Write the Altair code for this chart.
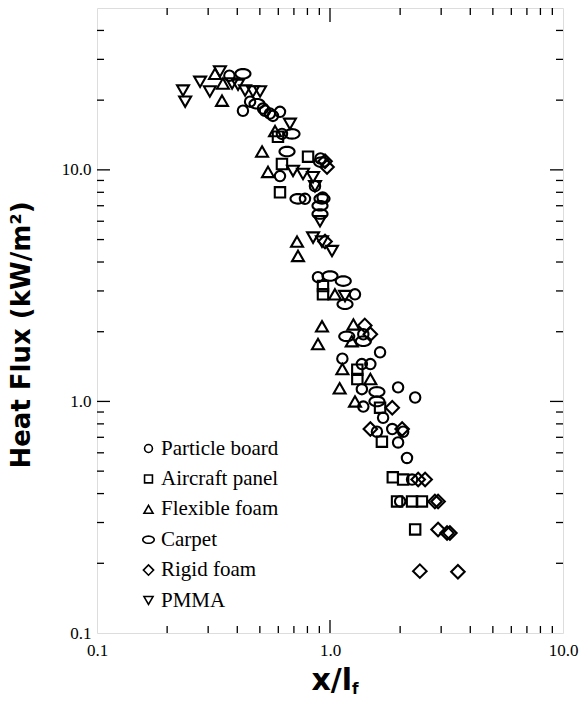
import altair as alt
import pandas as pd
import numpy as np

series_order = ["Particle board", "Aircraft panel", "Flexible foam", "Carpet", "Rigid foam", "PMMA"]

pb_x = [0.37, 0.454, 0.423, 0.516, 0.526, 0.552, 0.569, 0.61, 0.622, 0.61, 0.91, 0.862, 0.781, 0.93, 0.888,
        1.28, 1.39, 1.64, 1.13, 1.37, 1.49, 1.37, 1.96, 2.32, 1.39, 1.69, 1.59, 1.85, 2.06, 1.96, 2.14, 2.25, 2.0]
pb_y = [25.5, 19.7, 18.0, 18.4, 18.0, 17.5, 17.1, 17.8, 14.3, 9.4, 11.2, 8.5, 7.5, 7.6, 3.44,
        2.9, 1.95, 1.63, 1.53, 1.45, 1.45, 1.13, 1.15, 1.04, 0.95, 0.85, 0.74, 0.76, 0.74, 0.665, 0.57, 0.46, 0.37]

ap_x = [0.598, 0.622, 0.805, 0.61, 0.933, 0.933, 1.31, 1.31, 1.64, 1.67, 1.86, 2.06, 1.94, 2.25, 2.48, 2.32]
ap_y = [13.9, 10.6, 11.4, 8.0, 3.15, 2.9, 1.25, 1.37, 0.94, 0.67, 0.47, 0.46, 0.37, 0.37, 0.37, 0.28]

ff_x = [0.321, 0.344, 0.347, 0.581, 0.511, 0.542, 0.722, 0.729, 1.05, 0.924, 0.888, 1.26, 1.24, 1.13, 1.10, 1.49, 1.28]
ff_y = [26.0, 19.9, 23.6, 14.7, 12.0, 9.8, 4.9, 4.25, 2.9, 2.11, 1.77, 2.15, 1.82, 1.38, 1.14, 1.25, 1.0]

cp_x = [0.423, 0.486, 0.687, 0.654, 0.924, 0.729, 0.906, 0.906, 1.0, 1.14, 1.16, 1.18, 1.39, 1.59, 1.59, 0.92]
cp_y = [26.0, 19.3, 14.3, 12.0, 7.5, 7.5, 7.0, 6.45, 3.48, 3.31, 2.63, 1.91, 1.82, 1.10, 1.0, 10.8]

rf_x = [0.952, 0.971, 0.952, 1.41, 1.49, 1.85, 1.49, 2.04, 2.39, 2.56, 2.82, 2.91, 2.91, 3.18, 3.27, 2.43, 3.54]
rf_y = [10.9, 10.3, 4.9, 2.13, 1.95, 0.94, 0.76, 0.76, 0.46, 0.46, 0.37, 0.37, 0.28, 0.27, 0.27, 0.185, 0.184]

pm_x = [0.234, 0.239, 0.277, 0.305, 0.337, 0.38, 0.403, 0.432, 0.467, 0.501, 0.673, 0.694, 0.766, 0.846,
        0.862, 0.906, 0.846, 0.924, 1.02, 1.16]
pm_y = [22.0, 19.7, 24.0, 21.8, 26.6, 23.6, 23.3, 22.0, 21.8, 21.8, 15.8, 9.9, 9.6, 9.3,
        8.5, 6.0, 5.1, 4.9, 4.46, 2.85]

x_tick_labels = [0.1, 1.0, 10.0]
y_tick_labels = [0.1, 1.0, 10.0]
x_major_ticks = [1.0]
x_minor_ticks = [0.2, 0.3, 0.4, 0.5, 0.6, 0.7, 0.8, 0.9, 2, 3, 4, 5, 6, 7, 8, 9]
y_major_ticks = [1.0, 10.0]
y_minor_ticks = [0.2, 0.3, 0.4, 0.5, 0.6, 0.7, 0.8, 0.9, 2, 3, 4, 5, 6, 7, 8, 9, 20, 30, 40]

W, H = 466, 625
SERIF = "Liberation Serif, Times New Roman, Times, serif"

series_data = [(pb_x, pb_y), (ap_x, ap_y), (ff_x, ff_y), (cp_x, cp_y), (rf_x, rf_y), (pm_x, pm_y)]
rows = []
for name, (xs_, ys_) in zip(series_order, series_data):
    for a, b in zip(xs_, ys_):
        rows.append({"series": name, "x": a, "y": b})
df = pd.DataFrame(rows)

t = np.linspace(0, 2 * np.pi, 29)[:-1]
ellipse = "M " + " L ".join(f"{1.45 * np.cos(a):.3f} {0.92 * np.sin(a):.3f}" for a in t) + " Z"
tri_up = "M 0 -1.0 L 1.15 1.0 L -1.15 1.0 Z"
tri_down = "M -1.15 -1.0 L 1.15 -1.0 L 0 1.0 Z"
diamond = "M -1.3 0 L 0 -1.3 L 1.3 0 L 0 1.3 Z"

shapes = ["circle", "square", tri_up, ellipse, diamond, tri_down]

xs = alt.Scale(type="log", domain=[0.1, 10], nice=False)
ys = alt.Scale(type="log", domain=[0.1, 50], nice=False)

xaxis = alt.Axis(values=x_tick_labels, format=".1f", title=None, ticks=False, domain=False, grid=False,
                 labelFont=SERIF, labelFontSize=17, labelColor="black", labelPadding=9,
                 labelFlush=False, labelOverlap=False)
yaxis = alt.Axis(values=y_tick_labels, format=".1f", title=None, ticks=False, domain=False, grid=False,
                 labelFont=SERIF, labelFontSize=17, labelColor="black", labelPadding=6,
                 labelFlush=False, labelOverlap=False)


def X(f):
    return alt.X(f, type="quantitative", scale=xs, axis=xaxis)


def Y(f):
    return alt.Y(f, type="quantitative", scale=ys, axis=yaxis)


points = alt.Chart(df).mark_point(filled=False, strokeWidth=2.1, opacity=1, color="black", size=108).encode(
    x=X("x"),
    y=Y("y"),
    shape=alt.Shape("series:N", scale=alt.Scale(domain=series_order, range=shapes),
                    legend=alt.Legend(title=None, orient="none", legendX=41, legendY=430,
                                      labelFont=SERIF, labelFontSize=21, labelColor="black",
                                      symbolSize=62, symbolStrokeWidth=1.6, symbolStrokeColor="black",
                                      symbolFillColor="transparent",
                                      rowPadding=8.4, labelOffset=2, padding=0)),
)

dxmaj = pd.DataFrame({"v": x_major_ticks})
dxmin = pd.DataFrame({"v": x_minor_ticks})
dymaj = pd.DataFrame({"v": y_major_ticks})
dymin = pd.DataFrame({"v": y_minor_ticks})

rule = dict(color="black", strokeWidth=1.3)
tick_layers = [
    alt.Chart(dxmaj).mark_rule(**rule).encode(x=X("v"), y=alt.value(H), y2=alt.value(H - 13)),
    alt.Chart(dxmin).mark_rule(**rule).encode(x=X("v"), y=alt.value(H), y2=alt.value(H - 7)),
    alt.Chart(dxmaj).mark_rule(**rule).encode(x=X("v"), y=alt.value(0), y2=alt.value(14)),
    alt.Chart(dxmin).mark_rule(**rule).encode(x=X("v"), y=alt.value(0), y2=alt.value(7)),
    alt.Chart(dymaj).mark_rule(**rule).encode(y=Y("v"), x=alt.value(0), x2=alt.value(13)),
    alt.Chart(dymin).mark_rule(**rule).encode(y=Y("v"), x=alt.value(0), x2=alt.value(7)),
    alt.Chart(dymaj).mark_rule(**rule).encode(y=Y("v"), x=alt.value(W), x2=alt.value(W - 13)),
    alt.Chart(dymin).mark_rule(**rule).encode(y=Y("v"), x=alt.value(W), x2=alt.value(W - 7)),
]

ytitle = alt.Chart(pd.DataFrame({"t": ["Heat Flux (kW/m²)"]})).mark_text(
    angle=270, font="DejaVu Sans", fontWeight="bold", fontSize=26, color="black",
    align="center", baseline="middle").encode(text="t:N", x=alt.value(-75), y=alt.value(327))

xtitle = alt.Chart(pd.DataFrame({"t": ["x/l"]})).mark_text(
    font="DejaVu Sans", fontWeight="bold", fontSize=30, color="black",
    align="right", baseline="alphabetic").encode(text="t:N", x=alt.value(255), y=alt.value(682))

xsub = alt.Chart(pd.DataFrame({"t": ["f"]})).mark_text(
    font="DejaVu Sans", fontWeight="bold", fontSize=15, color="black",
    align="left", baseline="alphabetic").encode(text="t:N", x=alt.value(255), y=alt.value(686))

chart = alt.layer(points, *tick_layers, ytitle, xtitle, xsub).properties(
    width=W, height=H,
    autosize=alt.AutoSizeParams(type="none"),
    padding={"left": 97, "top": 8, "right": 20, "bottom": 69},
).configure_view(stroke="black", strokeWidth=1.6).configure_axis(
    labelFont=SERIF, labelFontSize=17
).configure(background="white")

chart.save("out.html", embed_options={"renderer": "svg", "actions": False})
